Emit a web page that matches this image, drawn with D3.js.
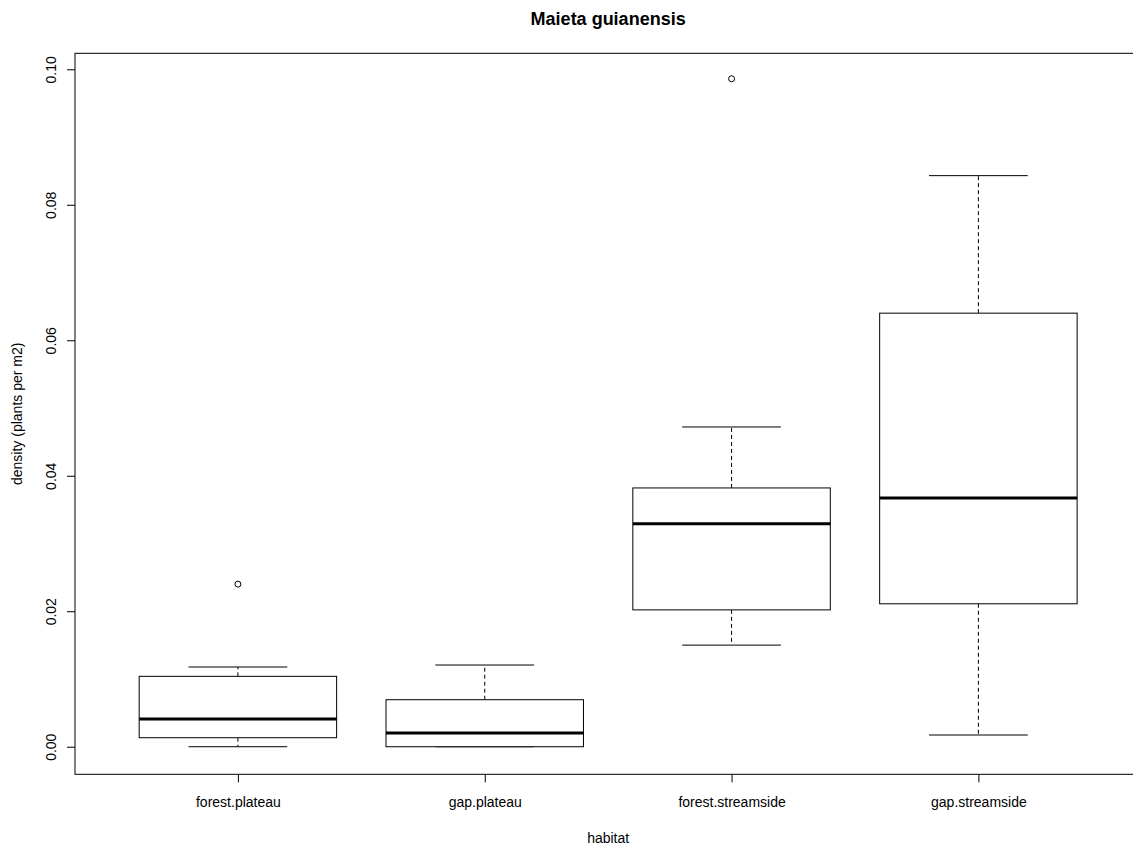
<!DOCTYPE html>
<html>
<head>
<meta charset="utf-8">
<script src="https://cdn.jsdelivr.net/npm/d3@7"></script>
<style>
  body { margin: 0; background: #fff; }
  text { font-family: "Liberation Sans", Arial, sans-serif; fill: #000; }
</style>
</head>
<body>
<svg width="1133" height="846"></svg>
<script>
const categories = ["forest.plateau", "gap.plateau", "forest.streamside", "gap.streamside"];
const lowWhisker = [0.0000, 0.0000, 0.0150, 0.00173];
const lowerQuartile = [0.00133, 0.0000, 0.0202, 0.0211];
const medians = [0.00409, 0.00202, 0.0329, 0.0367];
const upperQuartile = [0.01039, 0.00694, 0.0382, 0.0640];
const highWhisker = [0.01177, 0.01206, 0.0472, 0.0843];
const outliers = [[0.0240], [], [0.0986], []];
const yTicks = [0.00, 0.02, 0.04, 0.06, 0.08, 0.10];

const svg = d3.select("svg");
const plot = {left: 75, right: 1141.3, top: 53.3, bottom: 774.3};

const x = d3.scaleLinear().domain([0.34, 4.66]).range([plot.left, plot.right]);
const y = d3.scaleLinear().domain([-0.00407, 0.10236]).range([plot.bottom, plot.top]);

const boxes = categories.map((c, i) => ({
    name: c, pos: i + 1,
    min: lowWhisker[i], q1: lowerQuartile[i], med: medians[i],
    q3: upperQuartile[i], max: highWhisker[i], out: outliers[i]
}));

const g = svg.append("g");

// whiskers (dashed)
g.selectAll(".whisk-lo")
    .data(boxes.filter(d => d.min < d.q1))
    .enter().append("line")
    .attr("x1", d => x(d.pos)).attr("x2", d => x(d.pos))
    .attr("y1", d => y(d.q1)).attr("y2", d => y(d.min))
    .attr("stroke", "#000").attr("stroke-dasharray", "4,3");

g.selectAll(".whisk-hi")
    .data(boxes)
    .enter().append("line")
    .attr("x1", d => x(d.pos)).attr("x2", d => x(d.pos))
    .attr("y1", d => y(d.q3)).attr("y2", d => y(d.max))
    .attr("stroke", "#000").attr("stroke-dasharray", "4,3");

// staples
["min", "max"].forEach(k => {
    g.selectAll(".cap-" + k)
        .data(boxes)
        .enter().append("line")
        .attr("x1", d => x(d.pos - 0.2)).attr("x2", d => x(d.pos + 0.2))
        .attr("y1", d => y(d[k])).attr("y2", d => y(d[k]))
        .attr("stroke", "#000");
});

// boxes
g.selectAll(".box")
    .data(boxes)
    .enter().append("rect")
    .attr("x", d => x(d.pos - 0.4))
    .attr("width", x(1.4) - x(0.6))
    .attr("y", d => y(d.q3))
    .attr("height", d => y(d.q1) - y(d.q3))
    .attr("fill", "#fff").attr("stroke", "#000");

// medians
g.selectAll(".med")
    .data(boxes)
    .enter().append("line")
    .attr("x1", d => x(d.pos - 0.4)).attr("x2", d => x(d.pos + 0.4))
    .attr("y1", d => y(d.med)).attr("y2", d => y(d.med))
    .attr("stroke", "#000").attr("stroke-width", 3);

// outliers
g.selectAll(".out")
    .data(boxes.flatMap(d => d.out.map(v => ({pos: d.pos, v: v}))))
    .enter().append("circle")
    .attr("cx", d => x(d.pos)).attr("cy", d => y(d.v))
    .attr("r", 3)
    .attr("fill", "none").attr("stroke", "#000");

// frame
svg.append("rect")
    .attr("x", plot.left).attr("y", plot.top)
    .attr("width", plot.right - plot.left).attr("height", plot.bottom - plot.top)
    .attr("fill", "none").attr("stroke", "#000");

// y axis
const yAxis = svg.append("g")
    .attr("transform", `translate(${plot.left},0)`)
    .call(d3.axisLeft(y).tickValues(yTicks).tickSize(8).tickFormat(d3.format(".2f")));
yAxis.select(".domain").remove();
yAxis.selectAll("text")
    .attr("x", null).attr("dy", null)
    .attr("text-anchor", "middle")
    .attr("transform", "translate(-19,0) rotate(-90)")
    .style("font-size", "14px")
    .style("font-family", "Liberation Sans, Arial, sans-serif");

// x axis
const xAxis = svg.append("g")
    .attr("transform", `translate(0,${plot.bottom})`)
    .call(d3.axisBottom(x).tickValues([1, 2, 3, 4]).tickSize(8)
        .tickFormat(d => categories[d - 1]));
xAxis.select(".domain").remove();
xAxis.selectAll("text")
    .attr("y", 33).attr("dy", null)
    .style("font-size", "14px")
    .style("font-family", "Liberation Sans, Arial, sans-serif");

// title and axis titles
svg.append("text")
    .attr("x", (plot.left + plot.right) / 2).attr("y", 25)
    .attr("text-anchor", "middle")
    .style("font-size", "18px").style("font-weight", "bold")
    .text("Maieta guianensis");

svg.append("text")
    .attr("x", (plot.left + plot.right) / 2).attr("y", 843)
    .attr("text-anchor", "middle")
    .style("font-size", "14px")
    .text("habitat");

svg.append("text")
    .attr("transform", `translate(22,${(plot.top + plot.bottom) / 2}) rotate(-90)`)
    .attr("text-anchor", "middle")
    .style("font-size", "14px")
    .text("density (plants per m2)");
</script>
</body>
</html>
